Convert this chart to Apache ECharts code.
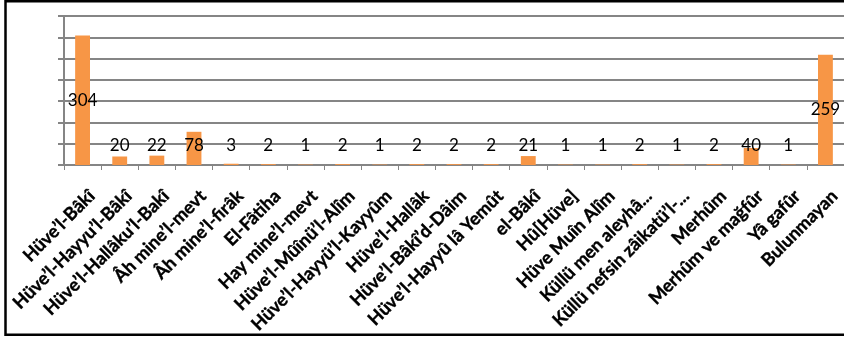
<!DOCTYPE html>
<html>
<head>
<meta charset="utf-8">
<script src="https://cdn.jsdelivr.net/npm/echarts@6/dist/echarts.min.js"></script>
<style>
  html, body { margin: 0; padding: 0; background: #fff; }
  #chart { width: 844px; height: 339px; }
</style>
</head>
<body>
<div id="chart"></div>
<script>
// Inscription counts per formula
const categories = [
  'Hüve’l-Bâkî',
  'Hüve’l-Hayyu’l-Bâkî',
  'Hüve’l-Hallâku’l-Bakî',
  'Âh mine’l-mevt',
  'Âh mine’l-firâk',
  'El-Fâtiha',
  'Hay mine’l-mevt',
  'Hüve’l-Mûînü’l-Alîm',
  'Hüve’l-Hayyü’l-Kayyûm',
  'Hüve’l-Hallâk',
  'Hüve’l-Bâkî’d-Dâim',
  'Hüve’l-Hayyû lâ Yemût',
  'el-Bâkî',
  'Hû[Hüve]',
  'Hüve Muîn Alîm',
  'Küllü men aleyhâ...',
  'Küllü nefsin zâikatü’l-...',
  'Merhûm',
  'Merhûm ve mağfûr',
  'Yâ gafûr',
  'Bulunmayan'
];
const counts = [304, 20, 22, 78, 3, 2, 1, 2, 1, 2, 2, 2, 21, 1, 1, 2, 1, 2, 40, 1, 259];

const yMax = 350;
const yStep = 50;

const gridTop = 16;
const gridHeight = 149;
const pxPerUnit = gridHeight / yMax;

const chart = echarts.init(document.getElementById('chart'), null, { renderer: 'canvas' });

// Tall bars carry their value in the middle; short ones get it just above the first gridline band
const seriesData = counts.map(v => {
  const tall = v * pxPerUnit / 2 > 20;
  return {
    value: v,
    label: tall
      ? { position: 'inside' }
      : { position: 'insideBottom', distance: 11 }
  };
});

chart.setOption({
  animation: false,
  graphic: [{
    type: 'rect',
    shape: { x: 5.5, y: 1.25, width: 1000, height: 333.5 },
    style: { fill: 'none', stroke: '#000', lineWidth: 2.5 },
    silent: true
  }],
  grid: {
    left: 64, right: 0, top: gridTop, height: gridHeight,
    containLabel: false,
    outerBoundsMode: 'none'
  },
  xAxis: {
    type: 'category',
    data: categories,
    axisLine: { lineStyle: { color: '#858585', width: 2 } },
    axisTick: { show: true, length: 5, lineStyle: { color: '#858585', width: 1 } },
    axisLabel: {
      interval: 0,
      rotate: 45,
      margin: 19,
      align: 'right',
      verticalAlign: 'top',
      padding: [4, 0, 0, 0],
      fontFamily: 'Lato',
      fontWeight: 'bold',
      fontSize: 18,
      color: '#000',
      textBorderColor: '#000',
      textBorderWidth: 0.4
    }
  },
  yAxis: {
    type: 'value',
    min: 0,
    max: yMax,
    interval: yStep,
    axisLine: { show: true, lineStyle: { color: '#858585', width: 2 } },
    axisTick: { show: true, inside: false, length: 6, lineStyle: { color: '#858585', width: 2 } },
    axisLabel: { show: false },
    splitLine: { show: true, lineStyle: { color: '#858585', width: 2 } }
  },
  series: [{
    type: 'bar',
    data: seriesData,
    barWidth: '40%',
    itemStyle: { color: '#F79646' },
    label: {
      show: true,
      color: '#000',
      fontFamily: 'Lato',
      fontSize: 17
    }
  }]
});
</script>
</body>
</html>
